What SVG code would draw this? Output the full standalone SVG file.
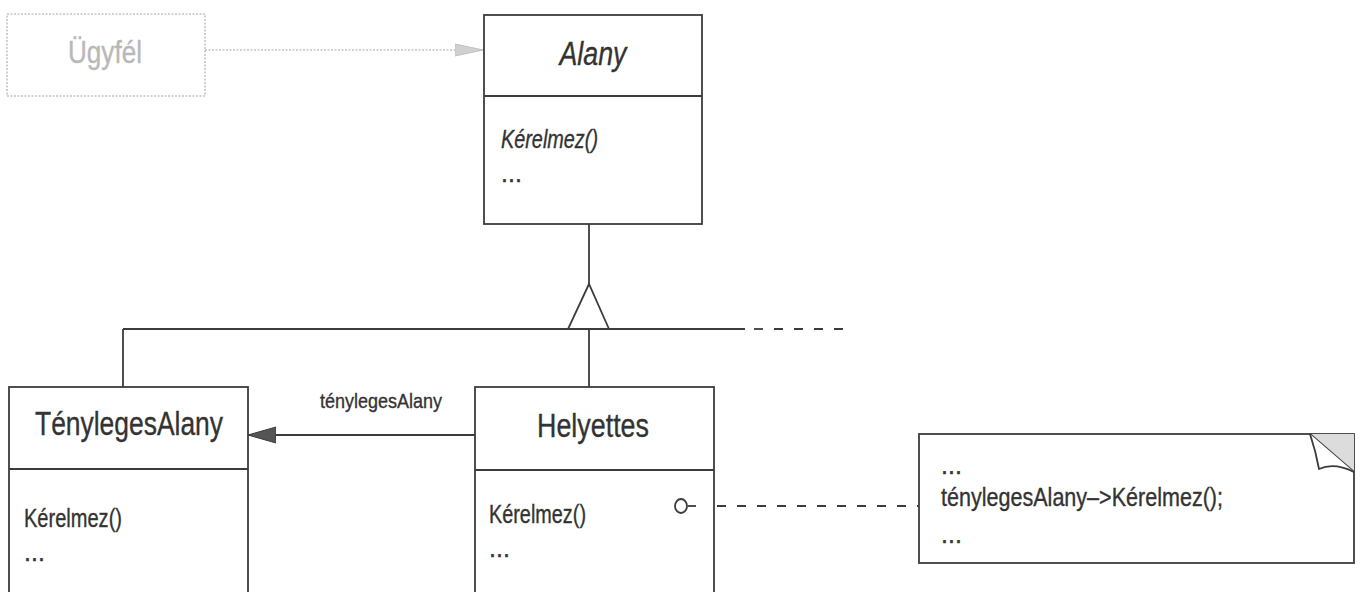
<svg xmlns="http://www.w3.org/2000/svg" width="1363" height="592" viewBox="0 0 1363 592">
  <style>
    .box { fill: #ffffff; stroke: #3c3c3c; stroke-width: 1.8; }
    .line { fill: none; stroke: #3c3c3c; stroke-width: 1.8; }
    .dash { fill: none; stroke: #3c3c3c; stroke-width: 1.8; stroke-dasharray: 9 11; }
    .ghost { fill: #ffffff; stroke: #c4c4c4; stroke-width: 1.6; stroke-dasharray: 2 1.5; }
    .ghostline { fill: none; stroke: #c4c4c4; stroke-width: 1.6; stroke-dasharray: 2 1.5; }
    text { font-family: "Liberation Sans", Arial, sans-serif; fill: #333333; stroke: #333333; stroke-width: 0.35; }
    .title { font-size: 34px; }
    .ital { font-style: italic; }
    .op { font-size: 25px; }
    .lbl { font-size: 21px; }
    .ghosttxt { fill: #b8b8b8; stroke: #b8b8b8; font-size: 32px; }
  </style>
  <defs>
    <marker id="ghostArrow" markerWidth="28" markerHeight="14" refX="28" refY="7" orient="auto" markerUnits="userSpaceOnUse">
      <path d="M0,1 L28,7 L0,13 Z" fill="#d0d0d0" stroke="#c0c0c0" stroke-width="1"/>
    </marker>
    <marker id="solidArrow" markerWidth="28" markerHeight="18" refX="28" refY="9" orient="auto" markerUnits="userSpaceOnUse">
      <path d="M0,1 L28,9 L0,17 Z" fill="#555555" stroke="#3c3c3c" stroke-width="1"/>
    </marker>
  </defs>

  <!-- client (greyed out) -->
  <g id="ugyfel">
    <rect class="ghost" x="7" y="14" width="198" height="82"/>
    <text class="ghosttxt" x="105" y="63" text-anchor="middle" textLength="74" lengthAdjust="spacingAndGlyphs">Ügyfél</text>
  </g>

  <!-- abstract subject -->
  <g id="alany">
    <rect class="box" x="484" y="15" width="218" height="209"/>
    <line class="line" x1="484" y1="96" x2="702" y2="96"/>
    <text class="title ital" x="593" y="65" text-anchor="middle" textLength="67" lengthAdjust="spacingAndGlyphs">Alany</text>
    <text class="op ital" x="501" y="148" textLength="97" lengthAdjust="spacingAndGlyphs">Kérelmez()</text>
    <text class="op" x="501" y="182">...</text>
  </g>

  <!-- real subject -->
  <g id="tenylegesalany">
    <rect class="box" x="9" y="387" width="239" height="215"/>
    <line class="line" x1="9" y1="469" x2="248" y2="469"/>
    <text class="title" x="129" y="435" text-anchor="middle" textLength="188" lengthAdjust="spacingAndGlyphs">TénylegesAlany</text>
    <text class="op" x="24" y="527" textLength="98" lengthAdjust="spacingAndGlyphs">Kérelmez()</text>
    <text class="op" x="24" y="561">...</text>
  </g>

  <!-- proxy -->
  <g id="helyettes">
    <rect class="box" x="475" y="387" width="239" height="215"/>
    <line class="line" x1="475" y1="470" x2="714" y2="470"/>
    <text class="title" x="593" y="437" text-anchor="middle" textLength="112" lengthAdjust="spacingAndGlyphs">Helyettes</text>
    <text class="op" x="489" y="523" textLength="97" lengthAdjust="spacingAndGlyphs">Kérelmez()</text>
    <text class="op" x="489" y="557">...</text>
  </g>

  <!-- note with folded corner -->
  <g id="megjegyzes">
    <rect class="box" x="919" y="434" width="435" height="129"/>
    <path d="M1310,434 L1354,434 L1354,472 Z" fill="#dcdcdc" stroke="none"/>
    <path class="line" d="M1310,434 L1354,472"/>
    <path d="M1310,434 Q1316,452 1319,469 Q1334,462 1354,472" fill="#ffffff" stroke="#3c3c3c" stroke-width="1.8" stroke-linejoin="round"/>
    <text class="op" x="941" y="474">...</text>
    <text class="op" x="941" y="506" textLength="282" lengthAdjust="spacingAndGlyphs">ténylegesAlany–&gt;Kérelmez();</text>
    <text class="op" x="941" y="543">...</text>
  </g>

  <!-- connectors -->
  <g id="connectors">
    <!-- client to subject -->
    <line class="ghostline" x1="205" y1="50" x2="483" y2="50" marker-end="url(#ghostArrow)"/>
    <!-- inheritance tree -->
    <line class="line" x1="589" y1="224" x2="589" y2="284"/>
    <path class="line" d="M589,284 L568,329 L609,329 Z" fill="#ffffff"/>
    <line class="line" x1="123" y1="329" x2="745" y2="329"/>
    <line class="dash" x1="754" y1="329" x2="850" y2="329"/>
    <line class="line" x1="123" y1="329" x2="123" y2="387"/>
    <line class="line" x1="589" y1="329" x2="589" y2="387"/>
    <!-- reference from proxy to real subject -->
    <line class="line" x1="475" y1="435" x2="248" y2="435" marker-end="url(#solidArrow)"/>
    <text class="lbl" x="381" y="408" text-anchor="middle" textLength="122" lengthAdjust="spacingAndGlyphs">ténylegesAlany</text>
    <!-- note anchor -->
    <ellipse cx="681" cy="506" rx="6" ry="7" fill="#ffffff" stroke="#3c3c3c" stroke-width="1.8"/>
    <line class="line" x1="688" y1="506" x2="696" y2="506"/>
    <line class="dash" x1="717" y1="506" x2="918" y2="506"/>
  </g>
</svg>
